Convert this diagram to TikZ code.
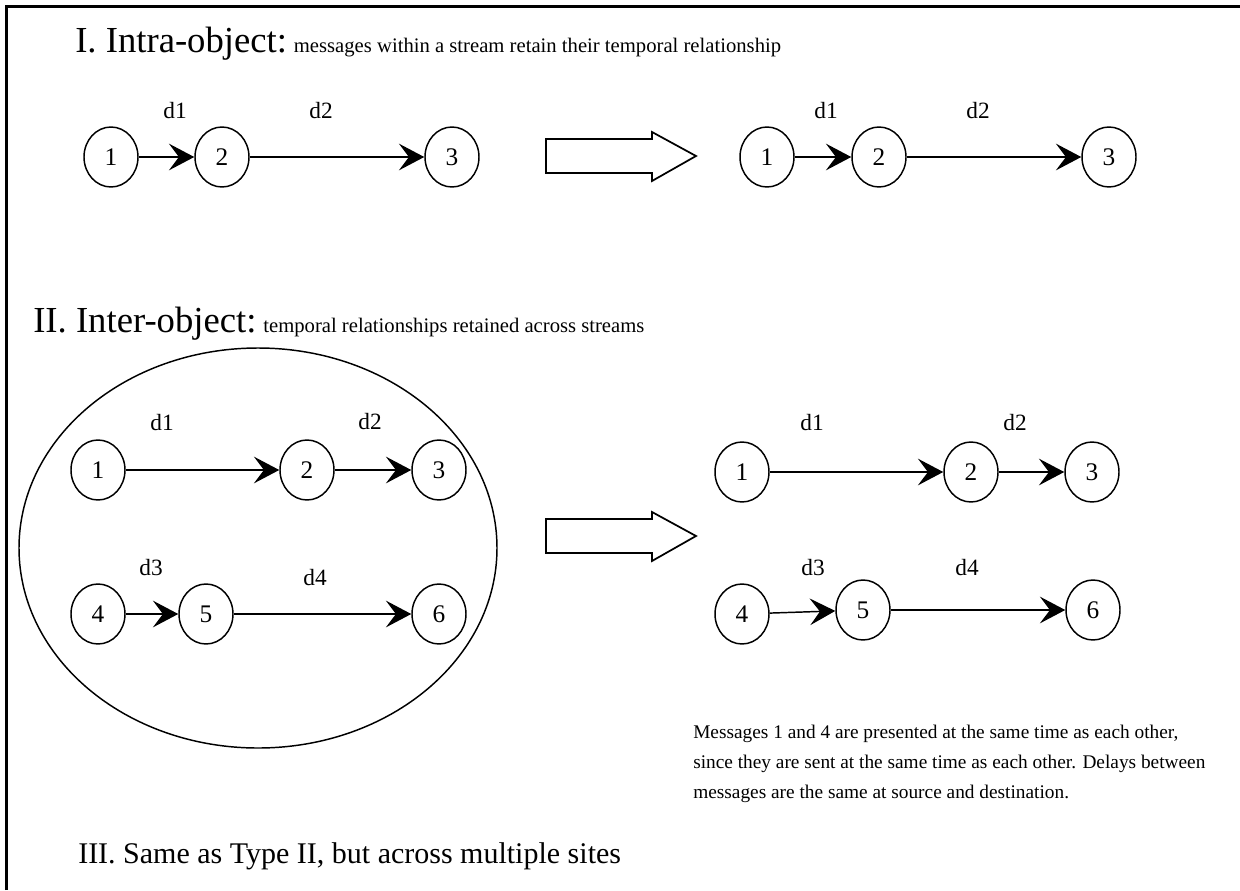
\documentclass[tikz,border=0pt]{standalone}
\usepackage{fontspec}
\setmainfont{Liberation Serif}
\usetikzlibrary{shapes.geometric,arrows.meta}
\tikzset{
  msg/.style={ellipse, draw, line width=1.1pt, minimum width=40.5pt, minimum height=45pt, inner sep=0pt, font=\fontsize{19}{19}\selectfont},
  lab/.style={inner sep=0pt, font=\fontsize{17.5}{17.5}\selectfont},
  link/.style={line width=1.1pt, -{Stealth[length=19pt, width=20pt, inset=7.5pt]}},
  bigarrow/.style={draw, line width=1.3pt, line join=miter},
  headI/.style={anchor=base west, inner sep=0pt},
  body/.style={anchor=north west, inner sep=0pt, font=\fontsize{14.5}{22.5}\selectfont}
}
\newcommand{\bigfont}{\fontsize{27.5}{27.5}\selectfont}
\newcommand{\smallfont}{\fontsize{15.5}{16}\selectfont}
\begin{document}
\begin{tikzpicture}[x=0.75pt, y=-0.75pt]
\useasboundingbox (0,0) rectangle (1240,890);
% frame
\draw[line width=2.3pt] (6.5,890) -- (6.5,6.5) -- (1240,6.5);

% Section I
\node[headI] (hI) at (75,52) {\bigfont I. Intra-object:\smallfont{} messages within a stream retain their temporal relationship};

\node[msg] (a1) at (111,157) {1};
\node[msg] (a2) at (222,157) {2};
\node[msg] (a3) at (452,157) {3};
\node[lab] (ad1) at (175,111) {d1};
\node[lab] (ad2) at (321,111) {d2};
\draw[link] (a1) -- (a2);
\draw[link] (a2) -- (a3);

\draw[bigarrow] (546,139) -- (652,139) -- (652,132) -- (696,156) -- (652,181) -- (652,173) -- (546,173) -- cycle;

\node[msg] (b1) at (767,157) {1};
\node[msg] (b2) at (879,157) {2};
\node[msg] (b3) at (1109,157) {3};
\node[lab] (bd1) at (826,111) {d1};
\node[lab] (bd2) at (978,111) {d2};
\draw[link] (b1) -- (b2);
\draw[link] (b2) -- (b3);

% Section II
\node[headI] (hII) at (33,332) {\bigfont II. Inter-object:\smallfont{} temporal relationships retained across streams};

\node[ellipse, draw, line width=1.1pt, minimum width=358.5pt, minimum height=300pt, inner sep=0pt] (grp) at (258,548) {};

\node[msg] (c1) at (98,470) {1};
\node[msg] (c2) at (307,470) {2};
\node[msg] (c3) at (439,470) {3};
\node[msg] (c4) at (98,614) {4};
\node[msg] (c5) at (206,614) {5};
\node[msg] (c6) at (439,614) {6};
\node[lab] (cd1) at (162,423) {d1};
\node[lab] (cd2) at (370,422) {d2};
\node[lab] (cd3) at (151,568) {d3};
\node[lab] (cd4) at (315,578) {d4};
\draw[link] (c1) -- (c2);
\draw[link] (c2) -- (c3);
\draw[link] (c4) -- (c5);
\draw[link] (c5) -- (c6);

\draw[bigarrow] (546,519) -- (652,519) -- (652,512) -- (696,536) -- (652,561) -- (652,553) -- (546,553) -- cycle;

\node[msg] (e1) at (742,472) {1};
\node[msg] (e2) at (971,472) {2};
\node[msg] (e3) at (1092,472) {3};
\node[msg] (e4) at (742,614) {4};
\node[msg] (e5) at (863,610) {5};
\node[msg] (e6) at (1093,610) {6};
\node[lab] (ed1) at (812,423) {d1};
\node[lab] (ed2) at (1015,423) {d2};
\node[lab] (ed3) at (813,568) {d3};
\node[lab] (ed4) at (967,568) {d4};
\draw[link] (e1) -- (e2);
\draw[link] (e2) -- (e3);
\draw[link] (e4) -- (e5);
\draw[link] (e5) -- (e6);

\node[body, align=left] (note) at (693,725) {Messages 1 and 4 are presented at the same time as each other,\\since they are sent at the same time as each other. Delays between\\messages are the same at source and destination.};

% Section III
\node[headI] (hIII) at (78,863) {\fontsize{22.5}{22.5}\selectfont III. Same as Type II, but across multiple sites};
\end{tikzpicture}
\end{document}
